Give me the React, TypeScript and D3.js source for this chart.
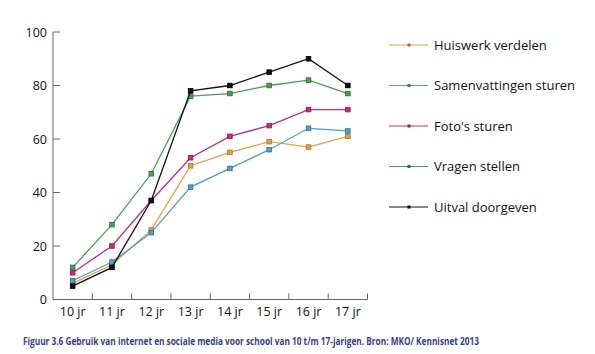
import React, { useRef, useEffect } from "react";
import * as d3 from "d3";

const ages = ["10 jr", "11 jr", "12 jr", "13 jr", "14 jr", "15 jr", "16 jr", "17 jr"];
const yTicks = [0, 20, 40, 60, 80, 100];

const seriesNames = [
  "Huiswerk verdelen",
  "Samenvattingen sturen",
  "Foto's sturen",
  "Vragen stellen",
  "Uitval doorgeven",
];
const huiswerk = [6, 13, 26, 50, 55, 59, 57, 61];
const samenvattingen = [7, 14, 25, 42, 49, 56, 64, 63];
const fotos = [10, 20, 37, 53, 61, 65, 71, 71];
const vragen = [12, 28, 47, 76, 77, 80, 82, 77];
const uitval = [5, 12, 37, 78, 80, 85, 90, 80];
const seriesValues = [huiswerk, samenvattingen, fotos, vragen, uitval];
const seriesColors = ["#e6a040", "#4f9fcf", "#c82a7e", "#47a052", "#111111"];
const markerStroke = ["#a8742a", "#2f6f95", "#8e1c58", "#2c6c36", "#000000"];

const caption =
  "Figuur 3.6 Gebruik van internet en sociale media voor school van 10 t/m 17-jarigen. Bron: MKO/ Kennisnet 2013";

export default function App() {
  const svgRef = useRef<SVGSVGElement>(null);

  useEffect(() => {
    const svg = d3.select(svgRef.current);
    svg.selectAll("*").remove();

    const font = "'Open Sans', sans-serif";
    const axisColor = "#666";

    // scales
    const x = d3.scaleBand().domain(ages).range([53, 367.5]);
    const y = d3.scaleLinear().domain([0, 100]).range([299.5, 32]);

    // axes
    const g = svg.append("g");
    g.append("line")
      .attr("x1", 53).attr("x2", 53)
      .attr("y1", y(100)).attr("y2", y(0))
      .attr("stroke", axisColor).attr("stroke-width", 1);
    g.append("line")
      .attr("x1", 53).attr("x2", 367.5)
      .attr("y1", y(0)).attr("y2", y(0))
      .attr("stroke", axisColor).attr("stroke-width", 1);

    yTicks.forEach((t) => {
      g.append("line")
        .attr("x1", 53).attr("x2", 60)
        .attr("y1", y(t)).attr("y2", y(t))
        .attr("stroke", axisColor);
      g.append("text")
        .attr("x", 47).attr("y", y(t) + 4.5)
        .attr("text-anchor", "end")
        .attr("font-family", font).attr("font-size", 12.5)
        .attr("fill", "#111")
        .text(t);
    });

    ages.forEach((a, i) => {
      const xr = (x(a) as number) + x.bandwidth();
      g.append("line")
        .attr("x1", xr).attr("x2", xr)
        .attr("y1", y(0)).attr("y2", y(0) - 6)
        .attr("stroke", axisColor);
      g.append("text")
        .attr("x", (x(a) as number) + x.bandwidth() / 2)
        .attr("y", 316)
        .attr("text-anchor", "middle")
        .attr("font-family", font).attr("font-size", 12.5)
        .attr("fill", "#111")
        .text(a);
    });

    const cx = (i: number) => (x(ages[i]) as number) + x.bandwidth() / 2;
    const line = d3
      .line<number>()
      .x((d, i) => cx(i))
      .y((d) => y(d));

    seriesValues.forEach((vals, s) => {
      g.append("path")
        .datum(vals)
        .attr("fill", "none")
        .attr("stroke", seriesColors[s])
        .attr("stroke-width", 1.3)
        .attr("d", line);
      g.selectAll(null)
        .data(vals)
        .enter()
        .append("rect")
        .attr("x", (d, i) => cx(i) - 2.3)
        .attr("y", (d) => y(d) - 2.3)
        .attr("width", 4.6)
        .attr("height", 4.6)
        .attr("fill", seriesColors[s])
        .attr("stroke", markerStroke[s])
        .attr("stroke-width", 0.8);
    });

    // legend
    const lg = svg.append("g");
    seriesNames.forEach((name, s) => {
      const ly = 45 + s * 40.5;
      lg.append("line")
        .attr("x1", 389).attr("x2", 428)
        .attr("y1", ly).attr("y2", ly)
        .attr("stroke", seriesColors[s]).attr("stroke-width", 1.2);
      lg.append("rect")
        .attr("x", 407.5).attr("y", ly - 1.5)
        .attr("width", 3).attr("height", 3)
        .attr("fill", markerStroke[s]);
      lg.append("text")
        .attr("x", 434).attr("y", ly + 4.5)
        .attr("font-family", font).attr("font-size", 13)
        .attr("fill", "#111")
        .text(name);
    });

    // caption
    svg.append("text")
      .attr("x", 23).attr("y", 345)
      .attr("font-family", font).attr("font-size", 10)
      .attr("font-weight", "bold")
      .attr("fill", "#33408f")
      .attr("textLength", 456)
      .attr("lengthAdjust", "spacingAndGlyphs")
      .text(caption);
  }, []);

  return (
    <svg
      ref={svgRef}
      width={595}
      height={354}
      style={{ position: "absolute", left: 0, top: 0, background: "#fff" }}
    />
  );
}
